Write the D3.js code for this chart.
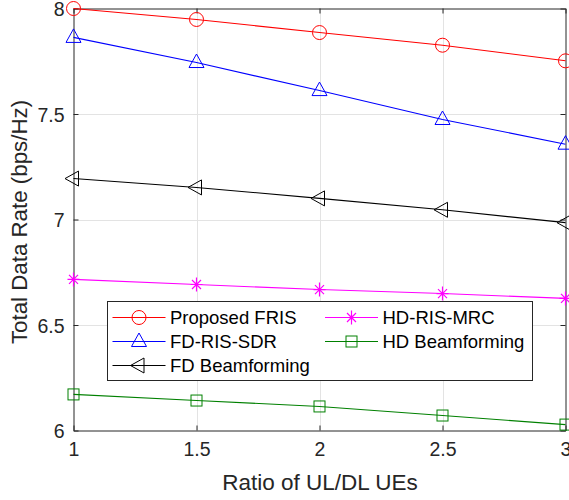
<!DOCTYPE html>
<html><head><meta charset="utf-8">
<script src="https://cdn.jsdelivr.net/npm/d3@7"></script>
<style>body{margin:0;background:#fff}svg{display:block}text{font-family:"Liberation Sans",Arial,sans-serif}</style>
</head><body><div id="chart"></div>
<script>
const xValues = [1, 1.5, 2, 2.5, 3];
const xTicks = [1, 1.5, 2, 2.5, 3];
const yTicks = [6, 6.5, 7, 7.5, 8];
const seriesNames = ["Proposed FRIS", "FD-RIS-SDR", "FD Beamforming", "HD-RIS-MRC", "HD Beamforming"];
const seriesColors = ["#ff0000", "#0000ff", "#000000", "#ff00ff", "#008000"];
const seriesMarkers = ["circle", "triangleUp", "triangleLeft", "asterisk", "square"];
const proposedFRIS = [8.0, 7.948, 7.886, 7.826, 7.752];
const fdRisSdr = [7.863, 7.744, 7.611, 7.474, 7.357];
const fdBeamforming = [7.194, 7.152, 7.100, 7.046, 6.985];
const hdRisMrc = [6.716, 6.692, 6.668, 6.649, 6.626];
const hdBeamforming = [6.171, 6.142, 6.114, 6.071, 6.028];
const seriesValues = [proposedFRIS, fdRisSdr, fdBeamforming, hdRisMrc, hdBeamforming];

const W = 569, H = 500;
const m = {left: 73.5, right: 565.5, top: 8.5, bottom: 430.5};
const svg = d3.select("#chart").append("svg").attr("width", W).attr("height", H);
const x = d3.scaleLinear().domain([1, 3]).range([m.left, m.right]);
const y = d3.scaleLinear().domain([6, 8]).range([m.bottom, m.top]);
const axisColor = "#262626";

// grid
const g = svg.append("g");
g.selectAll(".gx").data(xTicks.slice(1, -1)).enter().append("line")
  .attr("x1", d => Math.round(x(d)) + 0.5).attr("x2", d => Math.round(x(d)) + 0.5)
  .attr("y1", m.top).attr("y2", m.bottom).attr("stroke", "#e3e3e3").attr("stroke-width", 1);
g.selectAll(".gy").data(yTicks.slice(1, -1)).enter().append("line")
  .attr("y1", d => Math.round(y(d)) + 0.5).attr("y2", d => Math.round(y(d)) + 0.5)
  .attr("x1", m.left).attr("x2", m.right).attr("stroke", "#e3e3e3").attr("stroke-width", 1);

// axes via d3
const xAxis = d3.axisBottom(x).tickValues(xTicks).tickFormat(d3.format("")).tickSizeInner(-5).tickSizeOuter(0).tickPadding(12);
const yAxis = d3.axisLeft(y).tickValues(yTicks).tickFormat(d3.format("")).tickSizeInner(-5).tickSizeOuter(0).tickPadding(9);
const xa = svg.append("g").attr("transform", `translate(0,${m.bottom})`).call(xAxis);
const ya = svg.append("g").attr("transform", `translate(${m.left},0)`).call(yAxis);
const xTop = svg.append("g").attr("transform", `translate(0,${m.top})`).call(d3.axisTop(x).tickValues(xTicks).tickFormat("").tickSizeInner(-5).tickSizeOuter(0));
const yRight = svg.append("g").attr("transform", `translate(${m.right},0)`).call(d3.axisRight(y).tickValues(yTicks).tickFormat("").tickSizeInner(-5).tickSizeOuter(0));
[xa, ya, xTop, yRight].forEach(a => {
  a.selectAll("path,line").attr("stroke", axisColor);
  a.selectAll("text").attr("fill", axisColor).style("font-size", "19.5px").style("font-family", '"Liberation Sans",Arial,sans-serif');
});
xa.selectAll("text").attr("dy", "0.71em");
ya.selectAll("text").attr("dy", "0.36em");

// labels
svg.append("text").attr("x", 320).attr("y", 490).attr("text-anchor", "middle")
  .attr("fill", axisColor).style("font-size", "22.5px").text("Ratio of UL/DL UEs");
svg.append("text").attr("transform", `translate(27,222) rotate(-90)`).attr("text-anchor", "middle")
  .attr("fill", axisColor).style("font-size", "22.3px").text("Total Data Rate (bps/Hz)");

// markers
function drawMarker(sel, type, color) {
  if (type === "circle") sel.append("circle").attr("r", 7).attr("fill", "none").attr("stroke", color);
  else if (type === "square") sel.append("rect").attr("x", -5.5).attr("y", -5.5).attr("width", 11).attr("height", 11).attr("fill", "none").attr("stroke", color);
  else if (type === "triangleUp") sel.append("path").attr("d", "M0,-8.5L7.5,5L-7.5,5Z").attr("fill", "none").attr("stroke", color);
  else if (type === "triangleLeft") sel.append("path").attr("d", "M-8.5,0L5,-7.5L5,7.5Z").attr("fill", "none").attr("stroke", color);
  else if (type === "asterisk") sel.append("path").attr("d", "M0,-7L0,7M-6,0L6,0M-4.5,-4.5L4.5,4.5M-4.5,4.5L4.5,-4.5").attr("fill", "none").attr("stroke", color).attr("stroke-width", 1.2);
}

const line = d3.line().x((d, i) => x(xValues[i])).y(d => y(d));
seriesValues.forEach((vals, si) => {
  const c = seriesColors[si];
  svg.append("path").datum(vals).attr("d", line).attr("fill", "none").attr("stroke", c).attr("stroke-width", 1.1);
  vals.forEach((v, i) => {
    const mg = svg.append("g").attr("transform", `translate(${x(xValues[i])},${y(v)})`);
    drawMarker(mg, seriesMarkers[si], c);
  });
});

// legend
const lg = svg.append("g");
lg.append("rect").attr("x", 107.5).attr("y", 301.5).attr("width", 425).attr("height", 79).attr("fill", "#fff").attr("stroke", axisColor).attr("stroke-width", 1);
const legendPos = [
  {x: 112.5, y: 317.5}, {x: 112.5, y: 341.5}, {x: 112.5, y: 365.5},
  {x: 325, y: 317.5}, {x: 325, y: 341.5}
];
seriesNames.forEach((name, si) => {
  const p = legendPos[si];
  const c = seriesColors[si];
  lg.append("line").attr("x1", p.x).attr("x2", p.x + 53).attr("y1", p.y).attr("y2", p.y).attr("stroke", c).attr("stroke-width", 1.1);
  const mg = lg.append("g").attr("transform", `translate(${p.x + 26.5},${p.y})`);
  drawMarker(mg, seriesMarkers[si], c);
  lg.append("text").attr("x", p.x + 57.5).attr("y", p.y).attr("dy", "0.36em").attr("fill", "#000").style("font-size", "18.5px").text(name);
});
</script></body></html>
